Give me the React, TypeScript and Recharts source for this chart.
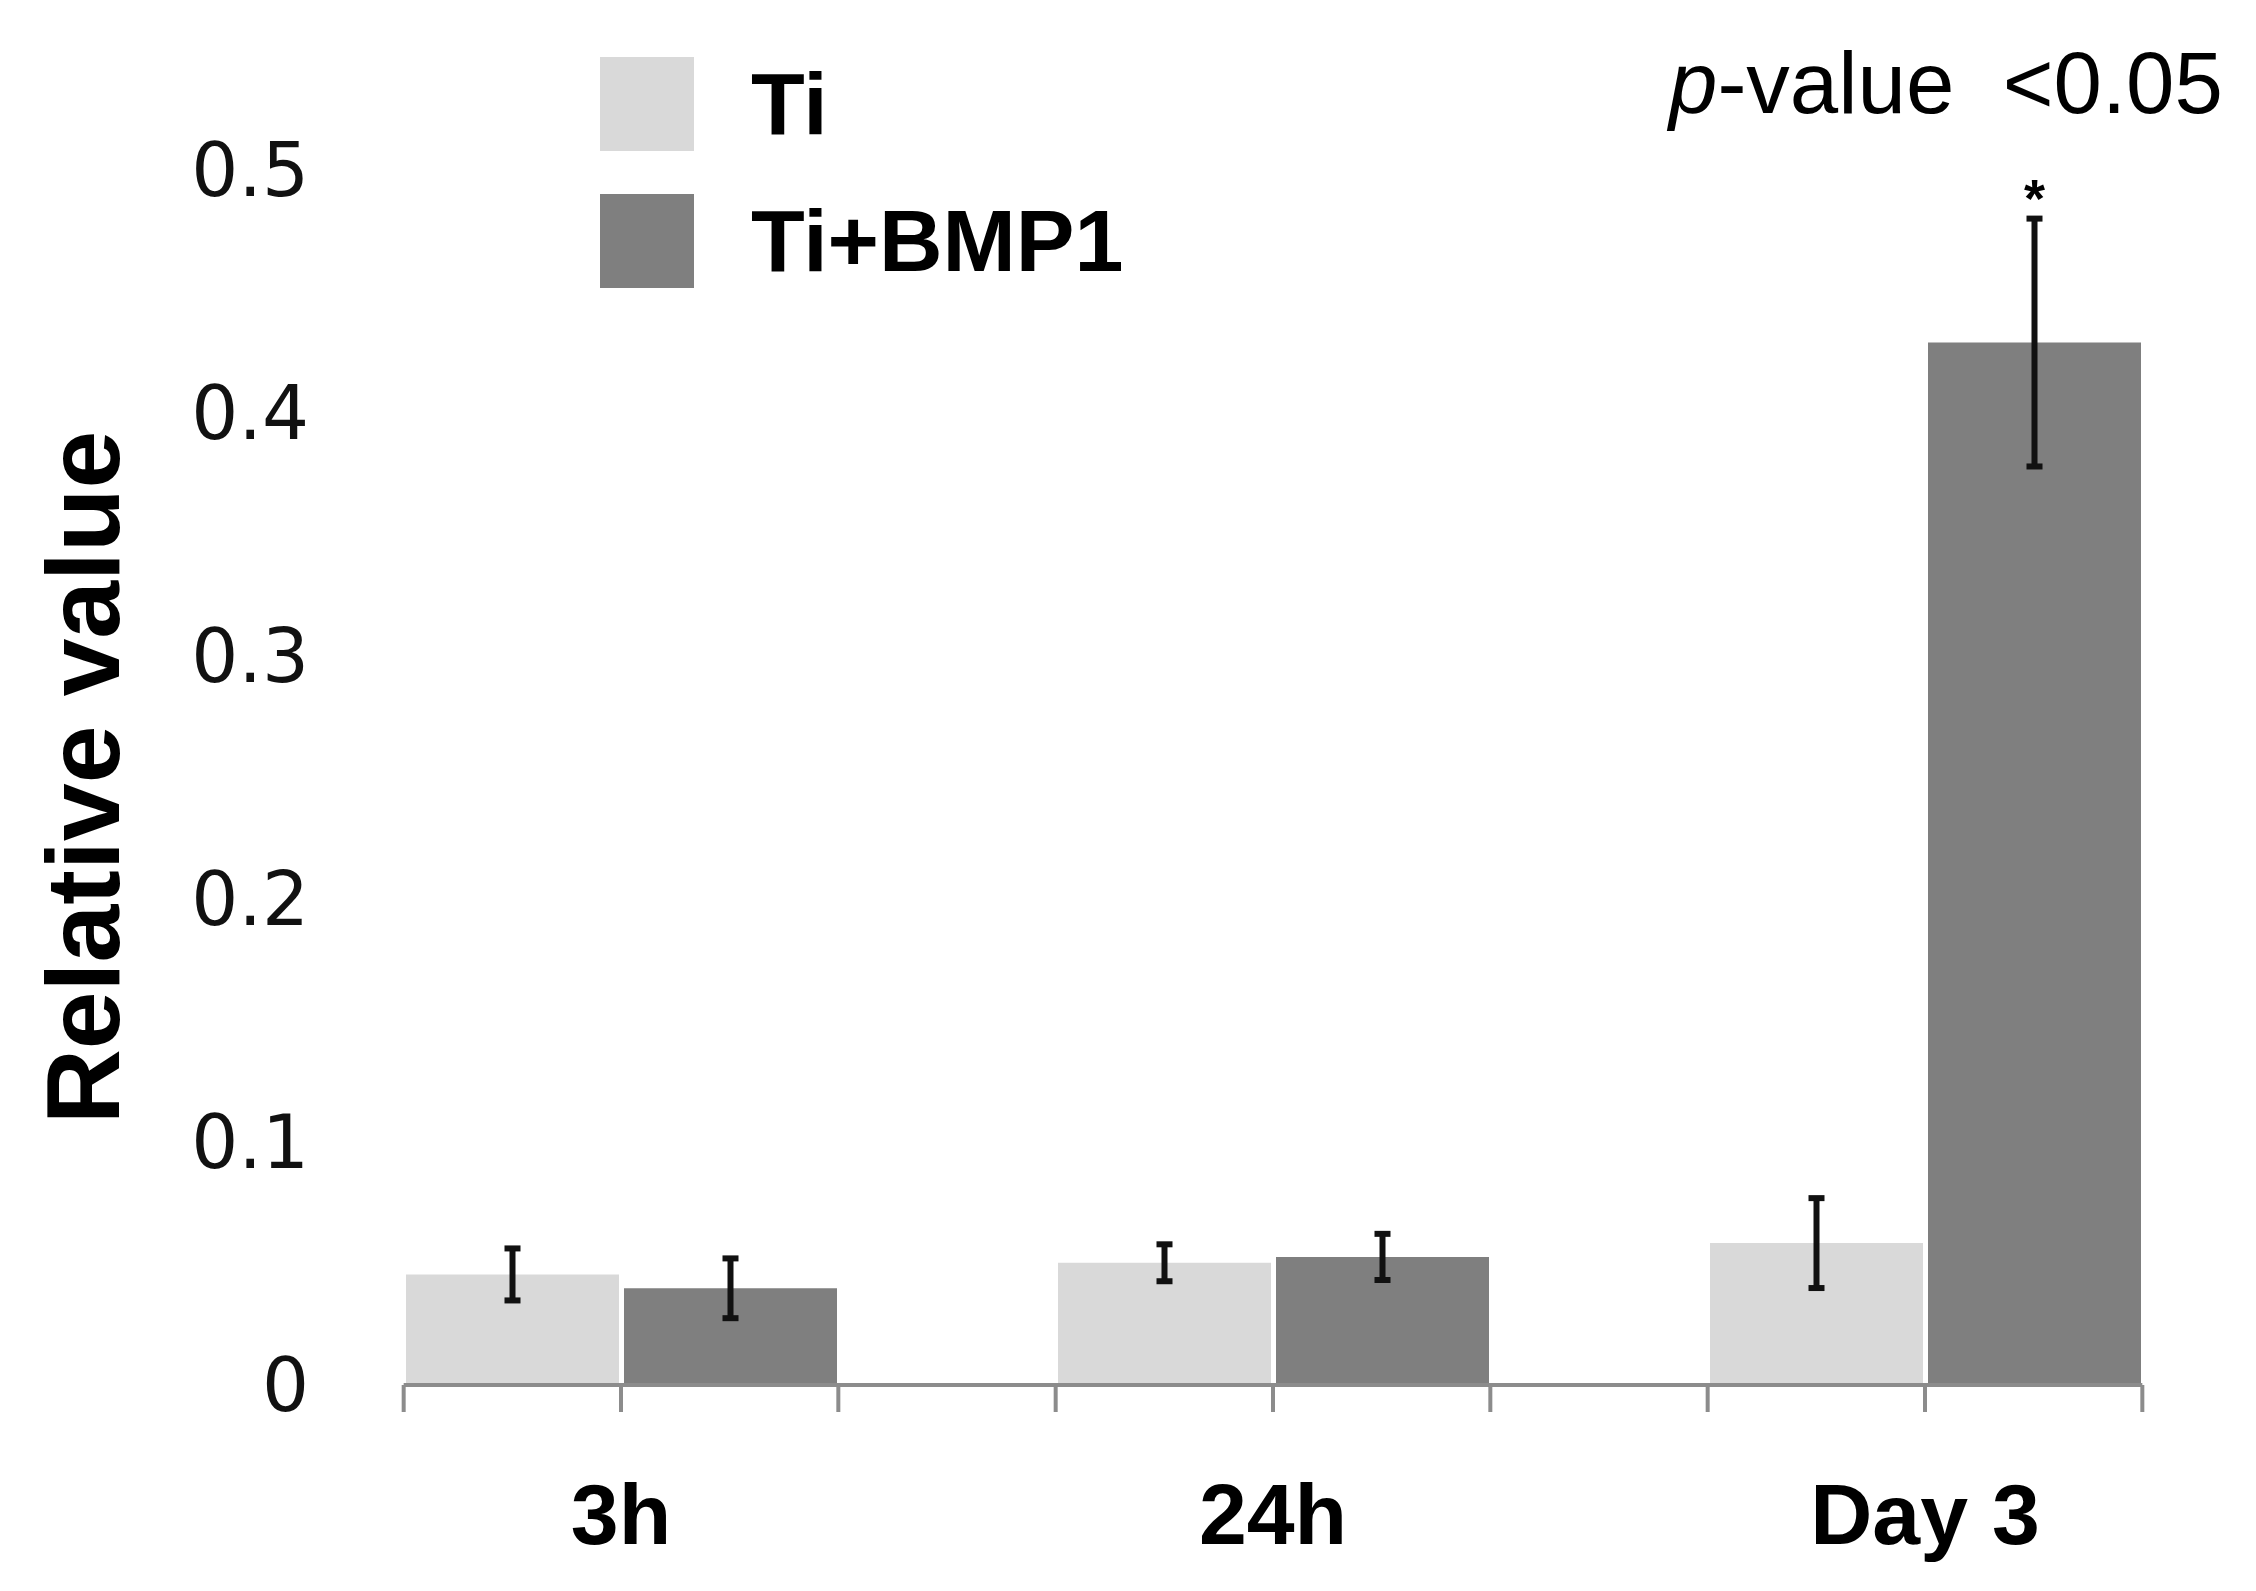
import React from 'react';
import {
    BarChart,
    Bar,
    XAxis,
    YAxis,
    ErrorBar,
    Legend,
    LabelList
} from 'recharts';

const categories = ['3h', '24h', 'Day 3'];
const tiValues = [0.0455, 0.0503, 0.0584];
const tiErrors = [0.0107, 0.0076, 0.0185];
const bmpValues = [0.0398, 0.0527, 0.429];
const bmpErrors = [0.0123, 0.0095, 0.051];
const bmpSignificance = ['', '', '*'];
const yTicks = [0, 0.1, 0.2, 0.3, 0.4, 0.5];

const chartData = categories.map((name, i) => ({
    name,
    ti: tiValues[i],
    tiErr: tiErrors[i],
    bmp: bmpValues[i],
    bmpErr: bmpErrors[i],
    sig: bmpSignificance[i]
}));

const sans = '"Liberation Sans", Arial, sans-serif';
const axisGrey = '#8c8c8c';

// category tick: label + Excel-like tick marks at every bar edge of the group
function GroupTick(props: any) {
    const { x, y, payload, index, visibleTicksCount, width } = props;
    const count = visibleTicksCount || categories.length;
    const band = (width || 1956) / count;
    const third = band / 3;
    const left = index === 0 ? x - third : x - band / 2;
    const right = index === count - 1 ? x + third : x + band / 2;
    return (
        <g>
            <line x1={left} y1={y} x2={right} y2={y} stroke={axisGrey} strokeWidth={4} />
            {[x - third, x, x + third].map((tx, i) => (
                <line key={i} x1={tx} y1={y} x2={tx} y2={y + 27} stroke={axisGrey} strokeWidth={4} />
            ))}
            <text
                x={x}
                y={y + 98}
                dy="0.71em"
                textAnchor="middle"
                fill="#000"
                fontSize={86}
                fontWeight={700}
                fontFamily={sans}
            >
                {payload.value}
            </text>
        </g>
    );
}

// asterisk above the top of the error bar
function SigLabel(props: any) {
    const { x, y, width, height, value, index } = props;
    if (!value) return null;
    const perUnit = height / bmpValues[index];
    const errTop = y - bmpErrors[index] * perUnit;
    return (
        <text x={x + width / 2} y={errTop - 2} textAnchor="middle" fill="#000" fontSize={54} fontWeight={700} fontFamily={sans}>
            {value}
        </text>
    );
}

export default function App() {
    return (
        <div style={{ position: 'absolute', left: 0, top: 0, width: 2256, height: 1591, background: '#fff' }}>
            <BarChart
                width={2256}
                height={1591}
                data={chartData}
                margin={{ top: 170, right: 5, bottom: 0, left: 0 }}
                barCategoryGap={111}
                barGap={5}
            >
                <XAxis
                    dataKey="name"
                    axisLine={false}
                    tickLine={false}
                    tickSize={0}
                    tickMargin={0}
                    height={206}
                    tick={<GroupTick />}
                    interval={0}
                />
                <YAxis
                    domain={[0, 0.5]}
                    ticks={yTicks}
                    width={295}
                    axisLine={false}
                    tickLine={false}
                    tickSize={0}
                    tickMargin={-14}
                    tick={{ fill: '#111', fontSize: 74, fontFamily: '"DejaVu Sans", Verdana, sans-serif' }}
                    label={{
                        value: 'Relative value',
                        angle: -90,
                        position: 'insideLeft',
                        offset: 82,
                        style: { textAnchor: 'middle', fill: '#000', fontSize: 104, fontWeight: 700, fontFamily: sans }
                    }}
                />
                <Legend
                    layout="vertical"
                    align="center"
                    verticalAlign="middle"
                    iconType="square"
                    iconSize={94}
                    wrapperStyle={{ left: 600, top: 35, width: 'auto', fontSize: 88, fontFamily: sans }}
                    formatter={(value) => (
                        <span style={{ color: '#000', fontWeight: 700, fontSize: 88, fontFamily: sans, marginLeft: 53, lineHeight: '137px', verticalAlign: 'middle' }}>
                            {value}
                        </span>
                    )}
                />
                <Bar dataKey="ti" name="Ti" fill="#d9d9d9" isAnimationActive={false}>
                    <ErrorBar dataKey="tiErr" direction="y" width={8} strokeWidth={6} stroke="#111" isAnimationActive={false} />
                </Bar>
                <Bar dataKey="bmp" name="Ti+BMP1" fill="#7f7f7f" isAnimationActive={false}>
                    <ErrorBar dataKey="bmpErr" direction="y" width={8} strokeWidth={6} stroke="#111" isAnimationActive={false} />
                    <LabelList dataKey="sig" content={<SigLabel />} />
                </Bar>
            </BarChart>
            <div
                style={{
                    position: 'absolute',
                    left: 1669,
                    top: 39,
                    fontSize: 87,
                    lineHeight: 1,
                    fontFamily: sans,
                    color: '#000',
                    whiteSpace: 'pre'
                }}
            >
                <i>p</i>-value  &lt;0.05
            </div>
        </div>
    );
}
